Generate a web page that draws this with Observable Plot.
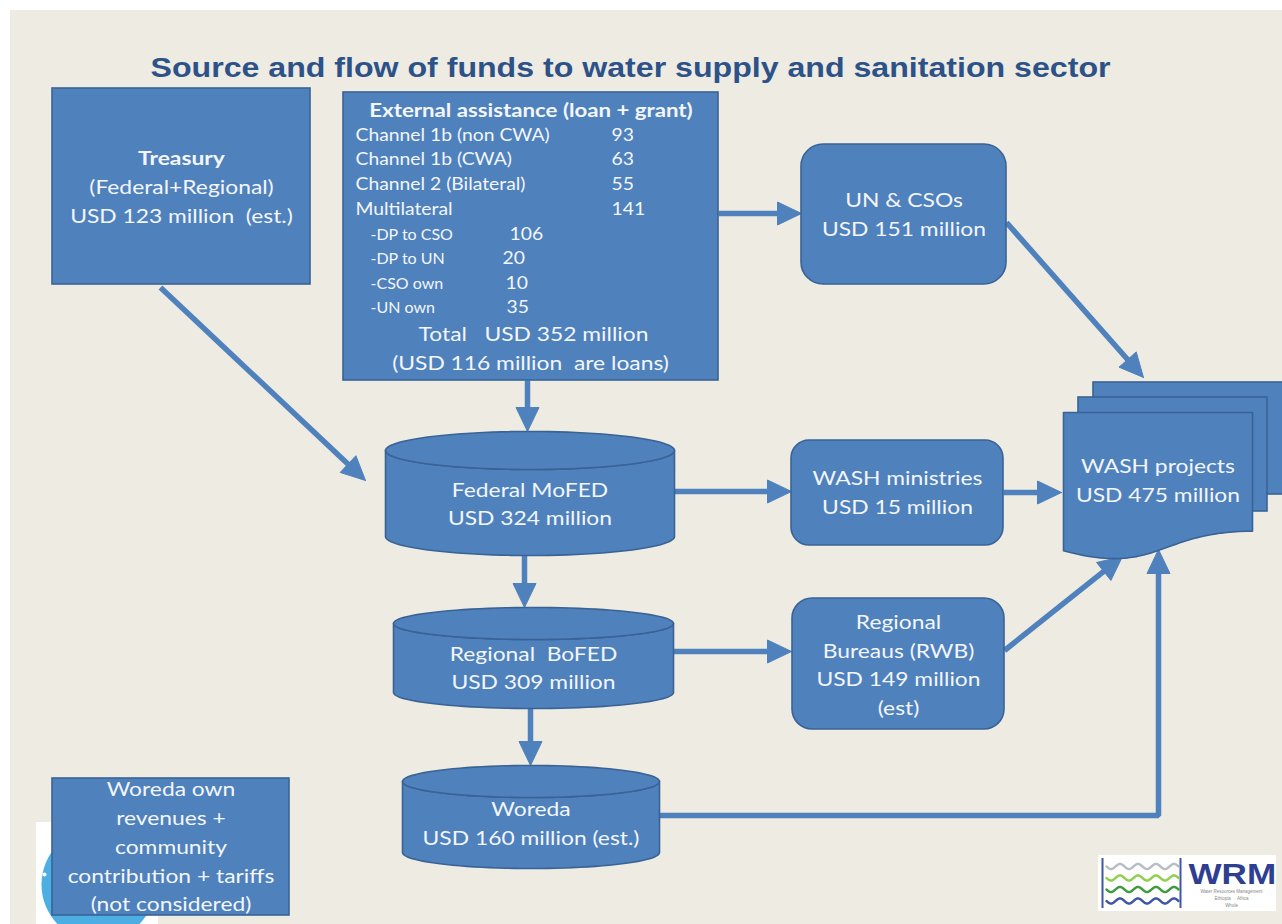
<!DOCTYPE html>
<html>
<head>
<meta charset="utf-8">
<script src="https://cdn.jsdelivr.net/npm/d3@7"></script>
<script src="https://cdn.jsdelivr.net/npm/@observablehq/plot@0.6"></script>
<style>
  html, body { margin: 0; padding: 0; background: #ffffff; }
  #chart svg { display: block; }
</style>
</head>
<body>
<div id="chart"></div>
<script>
// ---------------- DATA ----------------
const chartTitle = "Source and flow of funds to water supply and sanitation sector";

const nodeIds = ["treasury", "external", "uncso", "mofed", "washmin", "bofed", "rwb", "woreda", "woredaOwn", "projects"];
const nodeShapes = ["rect", "rect", "round", "cylinder", "round", "cylinder", "round", "cylinder", "rect", "document"];
const nodeLabels = [
  ["Treasury", "(Federal+Regional)", "USD 123 million\u00a0 (est.)"],
  [],
  ["UN & CSOs", "USD 151 million"],
  ["Federal MoFED", "USD 324 million"],
  ["WASH ministries", "USD 15 million"],
  ["Regional\u00a0 BoFED", "USD 309 million"],
  ["Regional", "Bureaus (RWB)", "USD 149 million", "(est)"],
  ["Woreda", "USD 160 million (est.)"],
  ["Woreda own", "revenues +", "community", "contribution + tariffs", "(not considered)"],
  ["WASH projects", "USD 475 million"]
];

const externalTitle = "External assistance (loan + grant)";
const channelLabels = ["Channel 1b (non CWA)", "Channel 1b (CWA)", "Channel 2 (Bilateral)", "Multilateral"];
const channelValues = [93, 63, 55, 141];
const multiLabels = ["-DP to CSO", "-DP to UN", "-CSO own", "-UN own"];
const multiValues = [106, 20, 10, 35];
const externalTotal = ["Total\u00a0\u00a0 USD 352 million", "(USD 116 million\u00a0 are loans)"];

const flowFrom = ["treasury", "external", "external", "uncso", "mofed", "washmin", "mofed", "bofed", "rwb", "bofed", "woreda"];
const flowTo   = ["mofed",    "uncso",    "mofed",    "projects", "washmin", "projects", "bofed", "rwb", "projects", "woreda", "projects"];

// ---------------- LAYOUT (geometry, kept apart from data) ----------------
const layout = {
  treasury:  {x1: 52,  x2: 310, y1: 88,  y2: 284, textY: [158, 187, 216]},
  external:  {x1: 343, x2: 718, y1: 92,  y2: 380},
  uncso:     {x1: 801, x2: 1006, y1: 144, y2: 284, r: 22, textY: [200, 229]},
  mofed:     {x1: 385, x2: 674, yt: 450, yb: 536, ry: 19, textY: [490, 518]},
  washmin:   {x1: 791, x2: 1003, y1: 440, y2: 545, r: 18, textY: [478, 507]},
  bofed:     {x1: 393, x2: 673, yt: 623, yb: 692, ry: 16, textY: [654, 682]},
  rwb:       {x1: 792, x2: 1004, y1: 598, y2: 729, r: 20, textY: [622, 651, 679, 708]},
  woreda:    {x1: 402, x2: 659, yt: 781, yb: 852, ry: 16, textY: [809, 838]},
  woredaOwn: {x1: 52,  x2: 289, y1: 778, y2: 915, textY: [789, 818, 847, 876, 904]},
  projects:  {x1: 1063, x2: 1252, y1: 412, h: 148, textY: [466, 495],
              back: [{x1: 1093, x2: 1290, y1: 382, y2: 494}, {x1: 1078, x2: 1267, y1: 397, y2: 511}]}
};
const flowPaths = [
  [[160, 287], [365, 480]],
  [[718, 213], [801, 213]],
  [[527, 380], [527, 431]],
  [[1006, 222], [1143, 377]],
  [[674, 491], [791, 491]],
  [[1003, 492], [1061, 492]],
  [[524, 553], [524, 607]],
  [[673, 651], [791, 651]],
  [[1004, 650], [1122, 556]],
  [[530, 708], [530, 765]],
  [[659, 815], [1158, 815], [1158, 549]]
];

const FILL = "#4F81BD", EDGE = "#3A6395", TXT = "#F3F6FB", BG = "#EEEBE3";
const FONT = "Lato, 'Open Sans', sans-serif";
const STRETCH = 1.17;

// ---------------- GEOMETRY HELPERS ----------------
const polys = [];       // {id, x, y}
function addPoly(id, pts) {
  pts.forEach(p => polys.push({id, x: p[0], y: p[1]}));
  polys.push({id, x: pts[0][0], y: pts[0][1]});
}
function cylinderBody(g) {
  const cx = (g.x1 + g.x2) / 2, rx = (g.x2 - g.x1) / 2, n = 48, pts = [];
  pts.push([g.x1, g.yt]);
  for (let i = 0; i <= n; i++) { const a = Math.PI * i / n; pts.push([cx - rx * Math.cos(a), g.yb + g.ry * Math.sin(a)]); }
  for (let i = 0; i <= n; i++) { const a = Math.PI * i / n; pts.push([cx + rx * Math.cos(a), g.yt + g.ry * Math.sin(a)]); }
  return pts;
}
function ellipseTop(g) {
  const cx = (g.x1 + g.x2) / 2, rx = (g.x2 - g.x1) / 2, n = 96, pts = [];
  for (let i = 0; i < n; i++) { const a = 2 * Math.PI * i / n; pts.push([cx + rx * Math.cos(a), g.yt + g.ry * Math.sin(a)]); }
  return pts;
}
function documentShape(g) {
  const w = g.x2 - g.x1, h = g.h, pts = [[g.x1, g.y1], [g.x2, g.y1]];
  const P0 = [g.x2, g.y1 + h * 17322 / 21600], P1 = [g.x1 + w / 2, g.y1 + h * 17322 / 21600],
        P2 = [g.x1 + w / 2, g.y1 + h * 23922 / 21600], P3 = [g.x1, g.y1 + h * 20172 / 21600];
  for (let i = 0; i <= 40; i++) {
    const t = i / 40, u = 1 - t;
    pts.push([u*u*u*P0[0] + 3*u*u*t*P1[0] + 3*u*t*t*P2[0] + t*t*t*P3[0],
              u*u*u*P0[1] + 3*u*u*t*P1[1] + 3*u*t*t*P2[1] + t*t*t*P3[1]]);
  }
  return pts;
}

// nodes
const rects = [], texts = [];
nodeIds.forEach((id, i) => {
  const g = layout[id], shape = nodeShapes[i];
  if (shape === "rect" || shape === "round") rects.push({...g, r: g.r || 0, id});
  if (shape === "cylinder") { addPoly(id + "-body", cylinderBody(g)); addPoly(id + "-top", ellipseTop(g)); }
  if (shape === "document") {
    g.back.forEach((b, k) => rects.push({...b, r: 0, id: id + k}));
    addPoly(id + "-front", documentShape(g));
  }
  const cx = (g.x1 + g.x2) / 2;
  (nodeLabels[i] || []).forEach((t, k) => texts.push({x: cx, y: g.textY[k], text: t, size: 19.5, weight: (id === "treasury" && k === 0) ? "bold" : "normal", anchor: "middle", stretch: true}));
});

// External assistance panel text
const ex = layout.external;
texts.push({x: (ex.x1 + ex.x2) / 2, y: 110, text: externalTitle, size: 19, weight: "bold", anchor: "middle", stretch: true});
channelLabels.forEach((t, k) => {
  texts.push({x: 355, y: 135 + k * 24.7, text: t, size: 16.5, weight: "normal", anchor: "start", stretch: true});
  texts.push({x: 611, y: 135 + k * 24.7, text: String(channelValues[k]), size: 16.5, weight: "normal", anchor: "start", stretch: true});
});
const multiValX = [509, 502, 505, 506];
multiLabels.forEach((t, k) => {
  texts.push({x: 370, y: 234 + k * 24.5, text: t, size: 16, weight: "normal", anchor: "start", stretch: false});
  texts.push({x: multiValX[k], y: 234 + k * 24.5, text: String(multiValues[k]), size: 16.5, weight: "normal", anchor: "start", stretch: true});
});
texts.push({x: 533, y: 334, text: externalTotal[0], size: 19.5, weight: "normal", anchor: "middle", stretch: true});
texts.push({x: 530, y: 363, text: externalTotal[1], size: 19.5, weight: "normal", anchor: "middle", stretch: true});

// arrows
const shafts = [], heads = [];
const HL = 24, HW = 11.5;
function addHead(id, pts) { pts.forEach(p => heads.push({id, x: p[0], y: p[1]})); heads.push({id, x: pts[0][0], y: pts[0][1]}); }
flowPaths.forEach((path, i) => {
  const id = flowFrom[i] + ">" + flowTo[i];
  const tip = path[path.length - 1], prev = path[path.length - 2];
  const dx = tip[0] - prev[0], dy = tip[1] - prev[1], len = Math.hypot(dx, dy);
  const ux = dx / len, uy = dy / len, nx = -uy, ny = ux;
  const base = [tip[0] - ux * HL, tip[1] - uy * HL];
  path.slice(0, -1).forEach(p => shafts.push({id, x: p[0], y: p[1]}));
  shafts.push({id, x: base[0] + ux * 2, y: base[1] + uy * 2});
  addHead(id, [tip, [base[0] + nx * HW, base[1] + ny * HW], [base[0] - nx * HW, base[1] - ny * HW]]);
});

// logo waves (decoration)
const logoWaves = [], waveColors = ["#B9BDC4", "#8FD14F", "#3E9B3E", "#3F55A8"];
waveColors.forEach((c, k) => {
  for (let i = 0; i <= 60; i++) {
    const x = 1106 + i * 72 / 60;
    logoWaves.push({k: String(k), x, y: 866 + k * 11.5 + 2.6 * Math.sin(i / 60 * Math.PI * 2 * 4)});
  }
});

const tag = k => (index, scales, values, dims, ctx, next) => {
  const g = next(index, scales, values, dims, ctx);
  g.setAttribute("data-stretch", k);
  return g;
};

const textMark = (subset, weight, anchor, k) => Plot.text(subset, {x: "x", y: "y", text: "text", fontSize: "size", fill: TXT,
  fontWeight: weight, textAnchor: anchor, fontFamily: FONT, render: tag(k)});

const chart = Plot.plot({
  width: 1282, height: 924, margin: 0,
  x: {domain: [0, 1282], range: [0, 1282], axis: null},
  y: {domain: [0, 924], range: [0, 924], axis: null},
  style: {background: "#ffffff", fontFamily: FONT},
  marks: [
    Plot.rect([{x1: 10, x2: 1282, y1: 10, y2: 924}], {x1: "x1", x2: "x2", y1: "y1", y2: "y2", fill: BG}),
    // partially hidden logo bottom-left
    Plot.rect([{x1: 36, x2: 158, y1: 822, y2: 924}], {x1: "x1", x2: "x2", y1: "y1", y2: "y2", fill: "#ffffff"}),
    Plot.dot([{x: 98, y: 884}], {x: "x", y: "y", r: 57, fill: "#4DAEE3"}),
    Plot.dot([{x: 44, y: 874}], {x: "x", y: "y", r: 2, fill: "#ffffff"}),
    // arrows
    Plot.line(shafts, {x: "x", y: "y", z: "id", stroke: FILL, strokeWidth: 5.5, strokeLinejoin: "miter", strokeLinecap: "butt"}),
    Plot.line(heads, {x: "x", y: "y", z: "id", fill: FILL, stroke: FILL, strokeWidth: 1}),
    // boxes
    Plot.rect(rects, {x1: "x1", x2: "x2", y1: "y1", y2: "y2", fill: FILL, stroke: EDGE, strokeWidth: 1.6,
      render: (index, scales, values, dims, ctx, next) => {
        const g = next(index, scales, values, dims, ctx);
        d3.select(g).selectAll("rect").each(function(d, j) { const r = rects[index[j]].r; d3.select(this).attr("rx", r).attr("ry", r); });
        return g;
      }}),
    Plot.line(polys, {x: "x", y: "y", z: "id", fill: FILL, stroke: EDGE, strokeWidth: 1.6}),
    // title
    Plot.text([chartTitle], {x: 630, y: 68, text: d => d, fontSize: 28, fontWeight: "bold", fill: "#2D5288",
      fontFamily: "'Liberation Sans', Arial, sans-serif", render: tag(1.147)}),
    // node texts
    textMark(texts.filter(t => t.weight === "bold"), "bold", "middle", STRETCH),
    textMark(texts.filter(t => t.weight !== "bold" && t.anchor === "middle"), "normal", "middle", STRETCH),
    textMark(texts.filter(t => t.weight !== "bold" && t.anchor === "start" && t.stretch), "normal", "start", STRETCH),
    textMark(texts.filter(t => t.weight !== "bold" && t.anchor === "start" && !t.stretch), "normal", "start", 1),
    // WRM logo bottom-right
    Plot.rect([{x1: 1098, x2: 1276, y1: 855, y2: 911}], {x1: "x1", x2: "x2", y1: "y1", y2: "y2", fill: "#ffffff"}),
    Plot.ruleX([1102, 1180], {x: d => d, y1: 858, y2: 908, stroke: "#3F55A8", strokeWidth: 2}),
    Plot.line(logoWaves, {x: "x", y: "y", z: "k", stroke: d => waveColors[+d.k], strokeWidth: 2.4}),
    Plot.text(["WRM"], {x: 1188, y: 874, text: d => d, textAnchor: "start", fontSize: 30, fontWeight: "bold", fill: "#2E3F92", fontFamily: "'Liberation Sans', Arial, sans-serif", render: tag(1.17)}),
    Plot.text(["Water Resources Management", "Ethiopia  \u00b7  Africa", "Whole"], {x: 1231, y: (d, i) => 891 + i * 7, text: d => d, fontSize: 4.5, fill: "#888888", fontFamily: "'Liberation Sans', Arial, sans-serif"})
  ]
});
document.getElementById("chart").appendChild(chart);

// horizontal stretch of text to match the source's wide rendering
chart.querySelectorAll("g[data-stretch]").forEach(g => {
  const k = +g.getAttribute("data-stretch");
  if (k === 1) return;
  g.querySelectorAll("text").forEach(t => {
    const L = t.getComputedTextLength();
    t.setAttribute("textLength", (L * k).toFixed(1));
    t.setAttribute("lengthAdjust", "spacingAndGlyphs");
  });
});
</script>
</body>
</html>
